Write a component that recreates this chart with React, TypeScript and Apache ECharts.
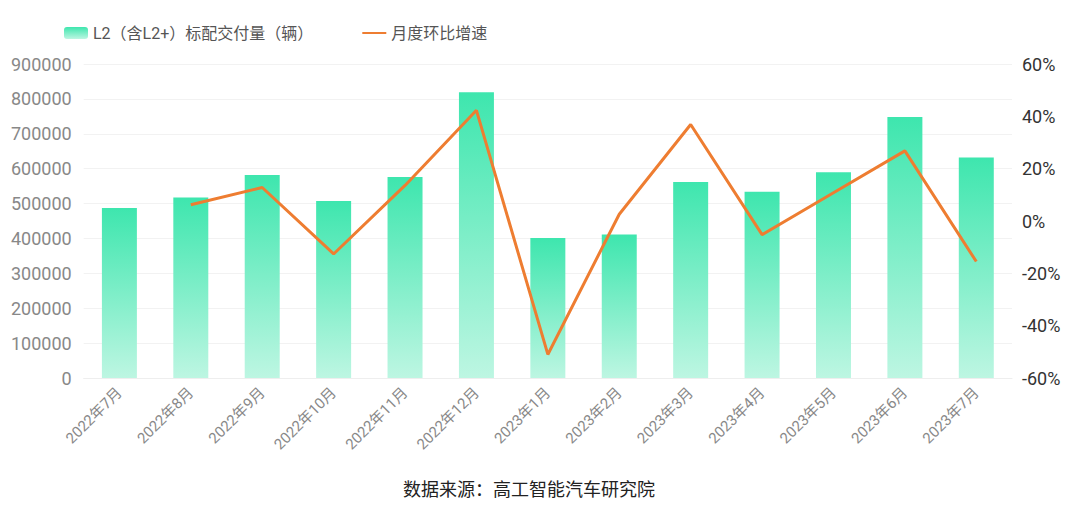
import React, { useEffect, useRef } from 'react';
import * as echarts from 'echarts';

const months = [
  '2022年7月', '2022年8月', '2022年9月', '2022年10月', '2022年11月', '2022年12月',
  '2023年1月', '2023年2月', '2023年3月', '2023年4月', '2023年5月', '2023年6月', '2023年7月',
];
// L2（含L2+）标配交付量（辆）
const deliveries = [487000, 517000, 582000, 507000, 576000, 819000, 401000, 411000, 562000, 534000, 590000, 748000, 632000];
// 月度环比增速 (%), first month has no value
const momGrowth: (number | null)[] = [null, 6.2, 12.8, -12.6, 13.6, 42.3, -51.0, 2.6, 36.9, -5.2, 10.8, 26.8, -15.5];

const FONT = 'Roboto, "Noto Sans CJK SC", sans-serif';

const App: React.FC = () => {
  const chartRef = useRef<HTMLDivElement>(null);

  useEffect(() => {
    const chart = echarts.init(chartRef.current!, null, { renderer: 'svg' });

    const options = {
      animation: false,
      textStyle: { fontFamily: FONT },
      legend: {
        left: 51,
        top: 12,
        itemWidth: 24,
        itemHeight: 12,
        itemGap: 48,
        textStyle: { fontSize: 16, color: '#555', fontFamily: FONT },
        data: [
          { name: 'L2（含L2+）标配交付量（辆）' },
          { name: '月度环比增速', itemStyle: { opacity: 0 } },
        ],
      },
      grid: { left: 74, right: 60, top: 56, bottom: 126 },
      xAxis: {
        type: 'category',
        data: months,
        axisLine: { lineStyle: { color: '#eeeeee' } },
        axisTick: { show: false },
        axisLabel: { rotate: 45, fontSize: 15, color: '#888', margin: 12, interval: 0 },
      },
      yAxis: [
        {
          type: 'value',
          min: 0,
          max: 900000,
          interval: 100000,
          axisLabel: { fontSize: 18, color: '#888', margin: 12, formatter: (v: number) => String(v) },
          splitLine: { lineStyle: { color: '#f2f2f2' } },
          axisLine: { show: false },
        },
        {
          type: 'value',
          min: -60,
          max: 60,
          interval: 20,
          axisLabel: { fontSize: 18, color: '#333', margin: 10, formatter: '{value}%' },
          splitLine: { show: false },
          axisLine: { show: false },
        },
      ],
      series: [
        {
          name: 'L2（含L2+）标配交付量（辆）',
          type: 'bar',
          data: deliveries,
          barWidth: '49%',
          itemStyle: {
            color: new echarts.graphic.LinearGradient(0, 0, 0, 1, [
              { offset: 0, color: '#3ee6ae' },
              { offset: 1, color: '#bdf6e2' },
            ]),
          },
        },
        {
          name: '月度环比增速',
          type: 'line',
          yAxisIndex: 1,
          data: momGrowth,
          symbol: 'none',
          lineStyle: { color: '#ee7d31', width: 3 },
          itemStyle: { color: '#ee7d31' },
        },
      ],
      graphic: [
        {
          type: 'text',
          left: 395,
          top: 472,
          style: { text: '数据来源：高工智能汽车研究院', fontSize: 18, fill: '#222', fontFamily: FONT },
        },
      ],
    };

    chart.setOption(options);
    return () => {
      chart.dispose();
    };
  }, []);

  return <div ref={chartRef} style={{ width: '1064px', height: '496px' }} />;
};

export default App;
